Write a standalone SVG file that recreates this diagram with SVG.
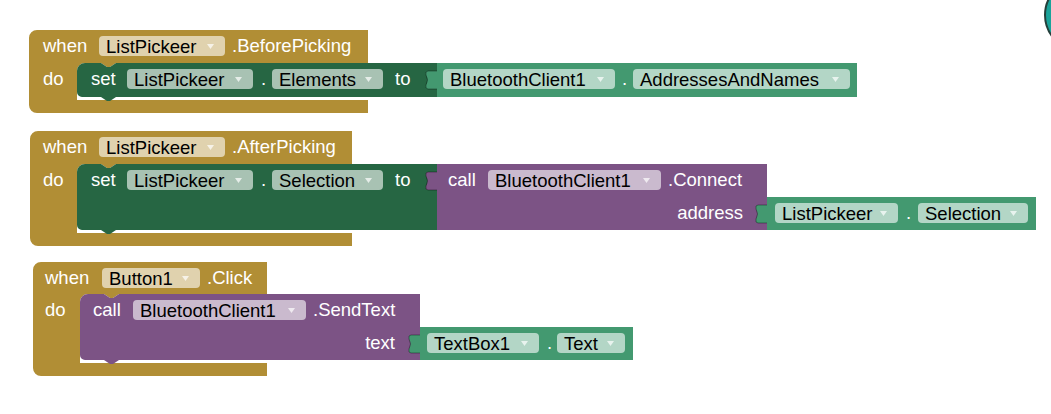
<svg xmlns="http://www.w3.org/2000/svg" xmlns:xlink="http://www.w3.org/1999/xlink" width="1051" height="414" viewBox="0 0 1051 414">
<style>
.ev{fill:#B18E35}
.set{fill:#266643}
.get{fill:#439970}
.meth{fill:#7C5385}
.tab{fill:none;stroke:#000;stroke-opacity:0.35;stroke-width:1}
.lbl{font-family:"Liberation Sans",Arial,sans-serif;font-size:18.5px;fill:#fff}
.fld{fill:#fff;fill-opacity:0.6}
.ft{font-family:"Liberation Sans",Arial,sans-serif;font-size:18.5px;fill:#000}
.arr{fill:#fff;fill-opacity:0.7}
</style>
<defs>
<path id="arr" d="M0,0 h7 l-3.5,5 z"/>
</defs>
<rect width="1051" height="414" fill="#fff"/>
<circle cx="1080" cy="15" r="35" fill="#1aa39a" stroke="#24403b" stroke-width="2"/>

<g id="block1">
<path class="ev" d="M29,38 A8,8 0 0 1 37,30 H368 V63 H116 L110,67 H107 L101,63 H85 A8,8 0 0 0 77,71 V100 H368 V113 H37 A8,8 0 0 1 29,105 Z"/>
<text class="lbl" x="43" y="52">when</text>
<rect class="fld" x="99" y="36" width="126" height="20" rx="4"/>
<text class="ft" x="106" y="52.5">ListPickeer</text>
<use href="#arr" class="arr" x="207" y="44"/>
<text class="lbl" x="232" y="52">.BeforePicking</text>
<text class="lbl" x="43" y="85">do</text>
</g>
<g id="set1">
<path class="set" d="M77,71 A8,8 0 0 1 85,63 H101 L107,67 H110 L116,63 H437 V97 H116 L110,101 H107 L101,97 H82 A5,5 0 0 1 77,92 Z"/>
<text class="lbl" x="91" y="85">set</text>
<rect class="fld" x="127" y="69" width="126" height="20" rx="4"/>
<text class="ft" x="134" y="85.5">ListPickeer</text>
<use href="#arr" class="arr" x="235" y="77"/>
<text class="lbl" x="261" y="85">.</text>
<rect class="fld" x="272" y="69" width="111" height="20" rx="4"/>
<text class="ft" x="279" y="85.5">Elements</text>
<use href="#arr" class="arr" x="365" y="77"/>
<text class="lbl" x="395" y="85">to</text>
</g>
<g id="get1">
<path class="get" d="M437,63 H857 V97 H437 V89 H428 Q425,89 426,85 Q429,80 426,75 Q425,71 428,71 H437 Z"/>
<path class="tab" d="M437,89 H428 Q425,89 426,85 Q429,80 426,75 Q425,71 428,71 H437"/>
<rect class="fld" x="443" y="69" width="172" height="20" rx="4"/>
<text class="ft" x="450" y="85.5">BluetoothClient1</text>
<use href="#arr" class="arr" x="597" y="77"/>
<text class="lbl" x="622" y="85">.</text>
<rect class="fld" x="633" y="69" width="217" height="20" rx="4"/>
<text class="ft" x="640" y="85.5">AddressesAndNames</text>
<use href="#arr" class="arr" x="832" y="77"/>
</g>

<g id="block2">
<path class="ev" d="M30,139 A8,8 0 0 1 38,131 H352 V164 H116 L110,168 H107 L101,164 H85 A8,8 0 0 0 77,172 V233 H352 V246 H38 A8,8 0 0 1 30,238 Z"/>
<text class="lbl" x="43" y="153">when</text>
<rect class="fld" x="99" y="137" width="126" height="20" rx="4"/>
<text class="ft" x="106" y="153.5">ListPickeer</text>
<use href="#arr" class="arr" x="207" y="145"/>
<text class="lbl" x="232" y="153">.AfterPicking</text>
<text class="lbl" x="43" y="186">do</text>
</g>
<g id="set2">
<path class="set" d="M77,172 A8,8 0 0 1 85,164 H101 L107,168 H110 L116,164 H437 V230 H116 L110,234 H107 L101,230 H82 A5,5 0 0 1 77,225 Z"/>
<text class="lbl" x="91" y="186">set</text>
<rect class="fld" x="127" y="170" width="126" height="20" rx="4"/>
<text class="ft" x="134" y="186.5">ListPickeer</text>
<use href="#arr" class="arr" x="235" y="178"/>
<text class="lbl" x="261" y="186">.</text>
<rect class="fld" x="272" y="170" width="111" height="20" rx="4"/>
<text class="ft" x="279" y="186.5">Selection</text>
<use href="#arr" class="arr" x="365" y="178"/>
<text class="lbl" x="395" y="186">to</text>
</g>
<g id="call2">
<path class="meth" d="M437,164 H767 V230 H437 V190 H428 Q425,190 426,186 Q429,181 426,176 Q425,172 428,172 H437 Z"/>
<path class="tab" d="M437,190 H428 Q425,190 426,186 Q429,181 426,176 Q425,172 428,172 H437"/>
<text class="lbl" x="448" y="186">call</text>
<rect class="fld" x="488" y="170" width="173" height="20" rx="4"/>
<text class="ft" x="495" y="186.5">BluetoothClient1</text>
<use href="#arr" class="arr" x="643" y="178"/>
<text class="lbl" x="668" y="186">.Connect</text>
<text class="lbl" x="743" y="219" text-anchor="end">address</text>
</g>
<g id="get2">
<path class="get" d="M767,197 H1036 V230 H767 V223 H758 Q755,223 756,219 Q759,214 756,209 Q755,205 758,205 H767 Z"/>
<path class="tab" d="M767,223 H758 Q755,223 756,219 Q759,214 756,209 Q755,205 758,205 H767"/>
<rect class="fld" x="775" y="203" width="123" height="20" rx="4"/>
<text class="ft" x="782" y="219.5">ListPickeer</text>
<use href="#arr" class="arr" x="880" y="211"/>
<text class="lbl" x="906" y="219">.</text>
<rect class="fld" x="918" y="203" width="110" height="20" rx="4"/>
<text class="ft" x="925" y="219.5">Selection</text>
<use href="#arr" class="arr" x="1010" y="211"/>
</g>

<g id="block3">
<path class="ev" d="M33,270 A8,8 0 0 1 41,262 H267 V294 H119 L113,298 H110 L104,294 H88 A8,8 0 0 0 80,302 V363 H267 V376 H41 A8,8 0 0 1 33,368 Z"/>
<text class="lbl" x="45" y="284">when</text>
<rect class="fld" x="102" y="268" width="98" height="20" rx="4"/>
<text class="ft" x="109" y="284.5">Button1</text>
<use href="#arr" class="arr" x="182" y="276"/>
<text class="lbl" x="207" y="284">.Click</text>
<text class="lbl" x="45" y="316">do</text>
</g>
<g id="call3">
<path class="meth" d="M80,302 A8,8 0 0 1 88,294 H104 L110,298 H113 L119,294 H420 V360 H119 L113,364 H110 L104,360 H85 A5,5 0 0 1 80,355 Z"/>
<text class="lbl" x="93" y="316">call</text>
<rect class="fld" x="133" y="300" width="173" height="20" rx="4"/>
<text class="ft" x="140" y="316.5">BluetoothClient1</text>
<use href="#arr" class="arr" x="288" y="308"/>
<text class="lbl" x="313" y="316">.SendText</text>
<text class="lbl" x="395" y="349" text-anchor="end">text</text>
</g>
<g id="get3">
<path class="get" d="M420,327 H633 V360 H420 V353 H411 Q408,353 409,349 Q412,344 409,339 Q408,335 411,335 H420 Z"/>
<path class="tab" d="M420,353 H411 Q408,353 409,349 Q412,344 409,339 Q408,335 411,335 H420"/>
<rect class="fld" x="427" y="333" width="112" height="20" rx="4"/>
<text class="ft" x="434" y="349.5">TextBox1</text>
<use href="#arr" class="arr" x="521" y="341"/>
<text class="lbl" x="547" y="349">.</text>
<rect class="fld" x="557" y="333" width="68" height="20" rx="4"/>
<text class="ft" x="564" y="349.5">Text</text>
<use href="#arr" class="arr" x="607" y="341"/>
</g>
<g id="connectors"></g>
</svg>
